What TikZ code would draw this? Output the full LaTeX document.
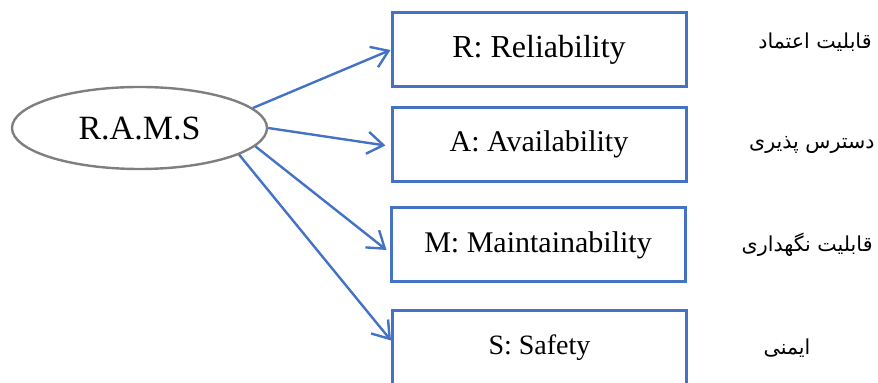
\documentclass[tikz,border=0pt]{standalone}
\usepackage{fontspec}
\setmainfont{Liberation Serif}
\newfontfamily\farsifont[Script=Arabic]{DejaVu Sans}
\TeXXeTstate=1
\usepackage{xcolor}
\usetikzlibrary{arrows.meta,calc,shapes.geometric}
\definecolor{boxblue}{RGB}{68,114,196}
\definecolor{ringgray}{RGB}{127,127,127}

\begin{document}
\begin{tikzpicture}[x=0.5pt,y=-0.5pt,>={Straight Barb[length=8pt,width=11pt]},
    term/.style={draw=boxblue,line width=1.5pt,minimum width=147pt,minimum height=37pt,inner sep=0pt},
    link/.style={->,draw=boxblue,line width=1.2pt},
    fa/.style={inner sep=0pt,font=\farsifont\fontsize{10.3}{12}\selectfont}]
    \useasboundingbox (0,0) rectangle (878,383);
    % centre
    \node[ellipse,draw=ringgray,line width=1.2pt,minimum width=127.5pt,minimum height=41pt,inner sep=0pt,
        font=\fontsize{17}{20}\selectfont] (rams) at (139.5,128) {R.A.M.S};
    % the four terms
    \node[term,font=\fontsize{16}{19}\selectfont] (rel) at (539,50) {R: Reliability};
    \node[term,font=\fontsize{15}{18}\selectfont] (avl) at (539,144.5) {A: Availability};
    \node[term,font=\fontsize{15}{18}\selectfont] (mnt) at (538,245) {M: Maintainability};
    \node[term,font=\fontsize{14}{17}\selectfont] (sft) at (539.5,348) {S: Safety};
    % persian names
    \node[fa,anchor=east] (faR) at (872,42) {\beginR قابلیت اعتماد\endR};
    \node[fa,anchor=east] (faA) at (875,145) {\beginR دسترس پذیری\endR};
    \node[fa,anchor=east] (faM) at (873,245) {\beginR قابلیت نگهداری\endR};
    \node[fa] (faS) at (787,348) {\beginR ایمنی\endR};
    % arrows
    \draw[link] (rams.10) -- (rel.west);
    \draw[link] (rams.0) -- ($(avl.west)+(-5,1)$);
    \draw[link] (rams.-9) -- ($(mnt.west)+(-3,5)$);
    \draw[link] (rams.-15) -- ($(sft.north west)+(0,31)$);
\end{tikzpicture}
\end{document}
